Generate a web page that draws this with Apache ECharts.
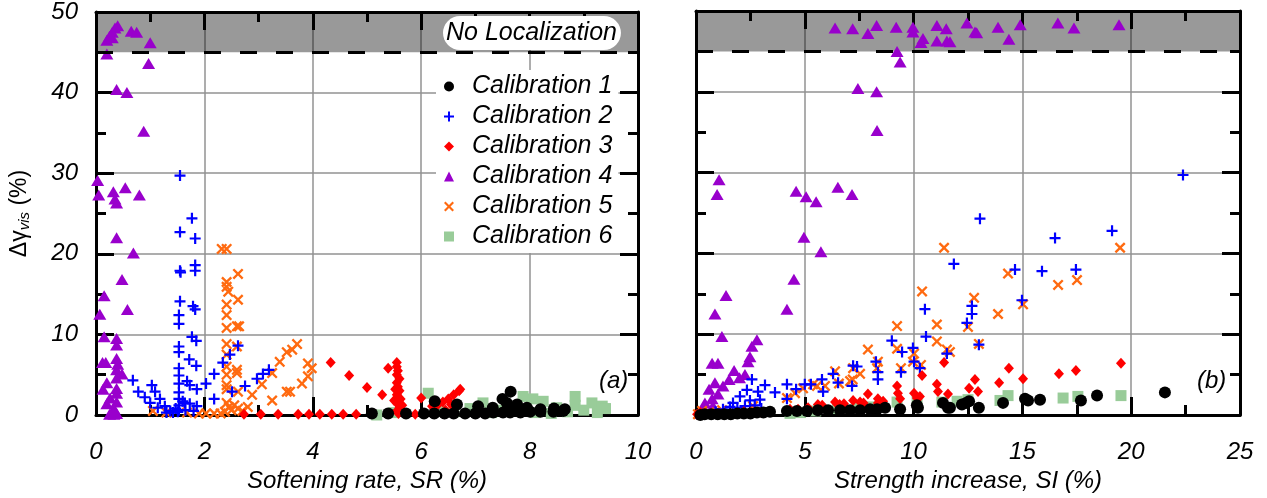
<!DOCTYPE html>
<html>
<head>
<meta charset="utf-8">
<style>
    html, body { margin: 0; padding: 0; background: #fff; }
    #main { width: 1267px; height: 498px; }
</style>
<script src="https://cdn.jsdelivr.net/npm/echarts@6/dist/echarts.min.js"></script>
</head>
<body>
<div id="main"></div>
<script>
    // (a) softening rate SR (%) vs delta gamma vis (%)
    var srCal1 = [[5.09,0.2],[5.39,0.2],[5.72,0.2],[6.05,0.2],[6.24,0.2],[6.43,0.2],[6.6,0.2],[6.81,0.2],[7.0,0.2],[7.18,0.2],[7.33,0.3],[7.51,0.3],[7.64,0.3],[7.83,0.3],[8.01,0.4],[8.2,0.4],[8.44,0.4],[8.62,0.5],
        [6.25,1.7],[6.66,1.3],[7.05,1.1],[7.32,0.9],[7.5,2.0],[7.65,2.9],[7.58,1.5],[7.77,1.3],[7.95,0.9],[8.2,0.7],[8.45,0.8],[8.65,0.7],[7.7,0.6],[7.6,0.8]];
    var srCal2 = [[1.55,29.7],[1.77,24.4],[1.55,22.7],[1.83,21.9],[1.83,18.6],[1.83,17.9],[1.55,17.9],[1.56,17.7],[1.55,14.1],[1.79,13.5],[1.83,13.1],[1.53,12.4],[1.53,11.3],[1.77,9.7],[1.85,9.2],
        [1.53,8.5],[1.53,7.8],[1.72,6.9],[1.85,6.1],[1.53,5.8],[1.53,4.9],[1.68,4.2],[1.73,3.7],[1.86,3.2],[1.53,3.9],[1.53,2.8],[1.53,2.0],[1.6,1.7],[1.64,1.5],[1.73,1.4],[1.86,1.1],[1.53,1.2],[1.53,0.6],
        [2.03,3.9],[2.18,5.1],[2.18,2.0],[2.34,6.5],[2.47,7.5],[2.62,8.6],[2.51,2.9],[2.75,3.6],[2.97,4.5],[3.08,5.1],[3.19,5.6],
        [0.68,4.3],[0.78,2.9],[0.9,2.2],[1.0,1.5],[1.03,3.7],[1.09,2.9],[1.18,2.0],[1.27,1.1],[1.14,0.9],[1.37,0.5],[1.42,0.3],[1.51,0.4],[1.3,0.3],[1.47,0.8],[1.65,0.6],[1.8,0.5]];
    var srCal3 = [[2.73,0.1],[3.04,0.1],[3.36,0.1],[3.73,0.1],[3.93,0.1],[4.13,0.1],[4.35,0.1],[4.56,0.1],[4.8,0.1],[5.89,0.1],
        [4.33,6.5],[4.67,4.9],[5.0,3.4],[5.28,2.5],[5.39,5.8],
        [5.55,6.5],[5.55,6.0],[5.57,5.5],[5.55,5.0],[5.6,4.5],[5.55,4.0],[5.57,3.5],[5.6,3.0],[5.55,2.5],[5.62,2.0],[5.55,1.5],[5.6,1.0],[5.55,0.5],[5.58,0.2],[5.5,1.8],[5.65,1.2],[5.52,3.2],
        [6.0,2.1],[6.2,1.1],[6.3,1.2],[6.4,1.6],[6.5,2.0],[6.6,2.5],[6.7,3.0],[6.72,3.2],[6.45,0.6],[6.55,1.3]];
    var srCal4 = [[0.2,46.5],[0.25,47.0],[0.3,47.5],[0.35,48.0],[0.4,48.3],[0.3,46.8],[0.65,47.6],[0.75,47.5],[1.0,46.2],[0.2,44.8],[0.97,43.6],[0.38,40.4],[0.57,40.0],[0.88,35.2],
        [0.03,29.1],[0.05,27.3],[0.32,27.7],[0.35,26.8],[0.38,26.3],[0.54,28.2],[0.8,27.3],[0.38,22.0],[0.69,20.1],[0.48,16.8],[0.15,14.8],[0.58,13.1],[0.07,12.5],
        [0.15,9.7],[0.38,9.5],[0.38,8.7],[0.12,6.5],[0.18,6.5],[0.38,7.0],[0.4,6.3],[0.38,5.6],[0.48,5.1],[0.38,4.6],[0.2,4.0],[0.38,3.3],[0.13,3.2],[0.26,2.1],[0.38,2.7],
        [0.2,1.4],[0.38,1.6],[0.33,0.8],[0.33,0.1],[0.38,0.2],[0.25,0.1]];
    var srCal5 = [[2.32,20.6],[2.41,20.6],[2.62,17.5],[2.41,16.5],[2.41,15.9],[2.44,15.3],[2.62,14.3],[2.41,13.7],[2.41,12.4],[2.41,10.8],[2.6,11.0],[2.64,11.0],[2.41,8.8],[2.6,8.5],
        [2.41,7.5],[2.41,6.0],[2.6,5.6],[2.6,5.2],[2.41,5.0],[2.41,3.7],[2.41,3.2],[2.62,2.9],[2.41,1.5],[2.45,1.0],[2.5,0.6],[2.38,0.4],[2.55,1.2],[2.62,0.8],[2.7,0.5],
        [2.88,2.5],[3.06,3.8],[3.25,5.2],[3.39,6.6],[3.52,7.8],[3.71,8.8],[3.25,1.8],[3.52,2.9],[3.62,8.1],[3.91,6.4],[3.98,5.8],[3.91,4.8],[3.8,3.9],[3.58,2.9],
        [1.05,0.5],[1.3,0.3],[1.68,0.3],[1.9,0.2],[2.03,0.2],[2.18,0.2],[2.3,0.2],[2.8,1.0]];
    var srCal6 = [[5.18,0.0],[5.5,0.3],[6.13,2.7],[6.35,0.5],[6.6,0.4],[7.14,1.5],[7.3,0.3],[7.88,2.3],[8.06,2.0],[8.25,1.7],[8.1,0.3],[8.4,0.2],[8.84,2.3],[8.84,1.2],
        [9.15,1.5],[9.34,1.1],[8.7,0.4],[9.0,0.6],[9.25,0.3],[6.9,0.8],[7.45,0.6],[8.5,0.9],[9.4,0.8]];

    // (b) strength increase SI (%) vs delta gamma vis (%)
    var siCal1 = [[21.55,2.8],[18.43,2.4],[17.69,1.8],[15.81,1.9],[15.26,1.8],[15.12,2.0],[14.11,1.5],[13.0,0.9],[12.55,1.7],[12.41,1.5],[12.22,1.3],[11.67,0.9],[11.35,1.5],[11.58,0.9],
        [10.2,0.9],[10.15,1.2],[9.38,0.7],[8.69,0.9],[8.32,0.7],[8.0,0.7],[7.54,0.6],[7.08,0.6],[6.62,0.6],[6.07,0.6],[5.6,0.6],[5.1,0.5],[4.64,0.5],[4.18,0.5],
        [3.4,0.4],[3.1,0.3],[2.8,0.3],[2.5,0.2],[2.2,0.2],[1.9,0.2],[1.6,0.1],[1.3,0.1],[1.0,0.1],[0.7,0.1],[0.4,0.1],[0.2,0.0]];
    var siCal2 = [[2.57,4.4],[3.17,3.7],[3.63,2.8],[2.85,2.9],[2.34,3.1],[2.02,2.3],[2.48,1.8],[2.94,1.9],[1.7,1.5],[1.56,1.0],[1.24,0.7],[2.25,1.1],[4.18,3.8],[4.18,2.0],[4.6,3.2],
        [5.0,3.8],[5.28,3.8],[5.79,4.4],[5.84,2.9],[6.3,5.1],[6.53,4.0],[7.17,3.6],[7.22,6.1],[7.4,6.0],[8.27,6.6],[8.36,5.3],[8.36,4.4],[9.0,9.2],[9.47,7.8],[9.42,5.3],
        [9.97,8.3],[10.02,6.6],[10.29,5.8],[10.52,13.1],[10.57,9.7],[11.53,7.6],[11.85,18.7],[12.45,11.4],[12.68,13.5],[12.68,12.5],[13.0,8.7],[22.38,29.7],[13.05,24.3],
        [16.5,21.9],[19.12,22.8],[14.66,18.0],[15.9,17.8],[17.46,18.0],[14.98,14.2],[0.9,0.4],[1.9,0.9],[2.7,1.2],[3.0,0.8]];
    var siCal3 = [[11.4,6.5],[10.39,4.9],[9.24,3.6],[9.28,2.7],[9.38,2.0],[7.9,2.6],[8.36,2.0],[8.36,1.5],[7.22,1.8],[6.39,1.6],[7.54,1.6],[10.02,2.7],[10.29,2.3],[10.15,2.1],
        [11.07,3.8],[11.12,2.9],[11.58,2.6],[12.55,3.3],[12.82,4.4],[12.96,2.9],[13.93,4.0],[14.38,5.8],[19.53,6.4],[17.46,5.5],[16.68,5.1],[15.03,4.5],
        [5.6,1.3],[5.8,1.2],[5.15,0.9],[4.69,0.7],[4.32,0.7],[8.6,1.7],[6.6,1.3],[6.8,1.4],[7.7,1.5],[0.05,0.1],[0.2,0.3],[2.2,0.4],[3.0,0.3]];
    var siCal4 = [[6.39,47.9],[7.2,47.8],[7.9,47.2],[8.3,48.2],[9.2,48.0],[9.97,48.0],[9.97,47.4],[10.43,46.6],[10.34,46.1],[11.07,48.2],[11.5,47.8],[11.07,46.3],[11.53,46.3],
        [11.67,46.2],[12.45,48.5],[12.82,47.4],[12.9,47.3],[13.88,48.0],[14.38,46.5],[14.9,48.3],[16.63,48.5],[17.37,47.9],[19.44,48.3],[9.24,45.0],[9.38,43.7],
        [7.44,40.4],[8.3,40.0],[8.32,35.2],[1.06,29.1],[0.97,27.3],[4.6,27.7],[5.06,27.0],[5.52,26.4],[6.52,28.2],[7.17,27.3],[4.96,22.0],[5.74,20.2],[4.5,16.8],
        [4.18,13.1],[1.38,14.8],[0.87,12.5],[1.19,9.7],[2.8,9.3],[2.57,8.5],[2.48,7.2],[0.74,6.4],[1.01,6.4],[2.25,5.0],[1.75,5.5],[1.52,4.4],[0.87,4.0],[1.24,3.6],
        [0.6,3.2],[1.01,2.6],[0.74,2.0],[0.41,1.5],[0.78,1.1],[0.32,0.7],[0.18,0.2],[2.39,6.6],[2.0,4.6]];
    var siCal5 = [[19.49,20.7],[14.34,17.5],[16.64,16.1],[17.51,16.7],[12.78,14.5],[15.03,13.7],[13.88,12.5],[12.5,10.9],[13.0,8.8],[11.67,7.8],[11.4,20.7],[10.39,15.3],
        [11.07,11.2],[11.07,9.1],[11.53,8.1],[9.24,11.0],[9.24,8.2],[7.9,8.1],[10.02,7.6],[9.97,6.6],[10.34,6.2],[8.36,6.6],[8.32,5.8],[9.42,5.8],[7.22,5.8],[7.54,5.1],
        [7.08,4.2],[6.39,5.4],[6.57,3.9],[5.93,3.6],[5.38,3.8],[4.92,3.3],[4.55,2.7],[4.18,2.1],[7.2,4.4],[5.56,3.6],[0.28,0.5],[0.09,0.1],[2.62,1.1],[1.2,0.6],[0.6,0.3]];
    var siCal6 = [[14.34,2.4],[16.87,2.1],[17.55,2.3],[19.53,2.4],[13.97,1.8],[12.5,1.9],[10.16,2.0],[9.24,1.6],[7.4,1.1],[8.0,1.0],[6.5,0.8],[4.32,0.2],[4.8,0.3],[11.3,1.6],[12.0,1.7],[5.5,0.5]];

    var calNames = ['Calibration 1', 'Calibration 2', 'Calibration 3', 'Calibration 4', 'Calibration 5', 'Calibration 6'];
    var noLocLimit = 45;

    var FONT = 'Liberation Sans';
    var PLUS = 'path://M4,0H6V4H10V6H6V10H4V6H0V4H4Z';
    var CROSS = 'path://M0,1.5L1.5,0L5,3.5L8.5,0L10,1.5L6.5,5L10,8.5L8.5,10L5,6.5L1.5,10L0,8.5L3.5,5Z';

    // marker style per calibration
    var marks = [
        {symbol: 'circle', size: 12, color: '#000000'},
        {symbol: PLUS, size: 11, color: '#0000ff'},
        {symbol: 'diamond', size: [10, 11], color: '#ff0000'},
        {symbol: 'triangle', size: [13, 11], color: '#9900cc'},
        {symbol: CROSS, size: 11, color: '#ff6a10'},
        {symbol: 'rect', size: 11, color: '#99cc99'}
    ];

    var txt = {fontFamily: FONT, fontStyle: 'italic', color: '#000'};

    function xBottom(grid, max, interval, name) {
        return {
            type: 'value', gridIndex: grid, min: 0, max: max, interval: interval, position: 'bottom',
            name: name, nameLocation: 'middle', nameGap: 54,
            nameTextStyle: Object.assign({fontSize: 24}, txt),
            axisLine: {onZero: false, lineStyle: {color: '#000', width: 3}},
            axisTick: {inside: true, length: 18, lineStyle: {color: '#000', width: 3}},
            minorTick: {show: true, splitNumber: 2, length: 10, lineStyle: {color: '#000', width: 3}},
            axisLabel: Object.assign({fontSize: 24, margin: 25}, txt),
            splitLine: {show: true, lineStyle: {color: '#929292', width: 1.5}}
        };
    }
    function xTop(grid, max, interval) {
        return {
            type: 'value', gridIndex: grid, min: 0, max: max, interval: interval, position: 'top',
            axisLine: {onZero: false, lineStyle: {color: '#000', width: 3}},
            axisTick: {inside: true, length: 18, lineStyle: {color: '#000', width: 3}},
            minorTick: {show: true, splitNumber: 2, length: 10, lineStyle: {color: '#000', width: 3}},
            axisLabel: {show: false},
            splitLine: {show: false}
        };
    }
    function yAxis(grid, pos, showLabel, main) {
        var a = {
            type: 'value', gridIndex: grid, min: 0, max: 50, interval: 10, position: pos,
            axisLine: {show: true, onZero: false, lineStyle: {color: '#000', width: 3}},
            axisTick: {show: true, inside: true, length: 18, lineStyle: {color: '#000', width: 3}},
            minorTick: {show: true, splitNumber: 2, length: 10, lineStyle: {color: '#000', width: 3}},
            axisLabel: Object.assign({show: showLabel, fontSize: 24, margin: 18}, txt),
            splitLine: {show: main, lineStyle: {color: '#929292', width: 1.5}}
        };
        if (showLabel) {
            a.name = '{g|Δγ}{s|vis}{g| (%)}';
            a.nameLocation = 'middle';
            a.nameGap = 64;
            a.nameTextStyle = {rich: {
                g: {fontFamily: FONT, fontSize: 23, color: '#000'},
                s: {fontFamily: FONT, fontStyle: 'italic', fontSize: 15, color: '#000', padding: [9, 0, 0, 0]}
            }};
        }
        return a;
    }

    // gray "no localization" band + dashed limit line
    function bandSeries(xi) {
        return {
            type: 'line', xAxisIndex: xi, yAxisIndex: xi, data: [], silent: true, z: 1,
            markArea: {silent: true, itemStyle: {color: 'rgba(0,0,0,0.4)'}, data: [[{yAxis: noLocLimit}, {yAxis: 50}]]},
            markLine: {silent: true, symbol: 'none', label: {show: false},
                lineStyle: {color: '#000', width: 3, type: [17, 19]}, data: [{yAxis: noLocLimit}]}
        };
    }

    function scat(idx, data, xi) {
        var m = marks[idx];
        return {
            name: calNames[idx], type: 'scatter', xAxisIndex: xi, yAxisIndex: xi,
            symbol: m.symbol, symbolSize: m.size, itemStyle: {color: m.color, opacity: 1},
            data: data, z: 3
        };
    }

    var srData = [srCal1, srCal2, srCal3, srCal4, srCal5, srCal6];
    var siData = [siCal1, siCal2, siCal3, siCal4, siCal5, siCal6];
    var drawOrder = [5, 3, 4, 1, 2, 0];

    var series = [bandSeries(0), bandSeries(2)];
    drawOrder.forEach(function (i) { series.push(scat(i, srData[i], 0)); });
    drawOrder.forEach(function (i) { series.push(scat(i, siData[i], 2)); });

    var option = {
        backgroundColor: '#fff',
        animation: false,
        title: [
            {text: 'No Localization', left: 443, top: 16, backgroundColor: '#fff', borderRadius: 17, padding: [4, 4, 4, 3],
                textStyle: Object.assign({fontSize: 25, fontWeight: 'normal', lineHeight: 26}, txt)},
            {text: '(a)', left: 599, top: 369, padding: 0, textStyle: Object.assign({fontSize: 24, fontWeight: 'normal'}, txt)},
            {text: '(b)', left: 1197, top: 369, padding: 0, textStyle: Object.assign({fontSize: 24, fontWeight: 'normal'}, txt)}
        ],
        legend: {
            data: calNames, orient: 'vertical', left: 436, top: 70,
            backgroundColor: '#fff', padding: [4, 6, 4, 8],
            itemWidth: 10, itemHeight: 10, itemGap: 5,
            textStyle: Object.assign({fontSize: 25, lineHeight: 25, padding: [0, 0, 0, 13]}, txt)
        },
        grid: [
            {left: 96, top: 11, width: 542, height: 408},
            {left: 696, top: 11, width: 544, height: 408}
        ],
        xAxis: [
            xBottom(0, 10, 2, 'Softening rate, SR (%)'),
            xTop(0, 10, 2),
            xBottom(1, 25, 5, 'Strength increase, SI (%)'),
            xTop(1, 25, 5)
        ],
        yAxis: [
            yAxis(0, 'left', true, true),
            yAxis(0, 'right', false, false),
            yAxis(1, 'left', false, true),
            yAxis(1, 'right', false, false)
        ],
        series: series
    };

    var chart = echarts.init(document.getElementById('main'));
    chart.setOption(option);
</script>
</body>
</html>
